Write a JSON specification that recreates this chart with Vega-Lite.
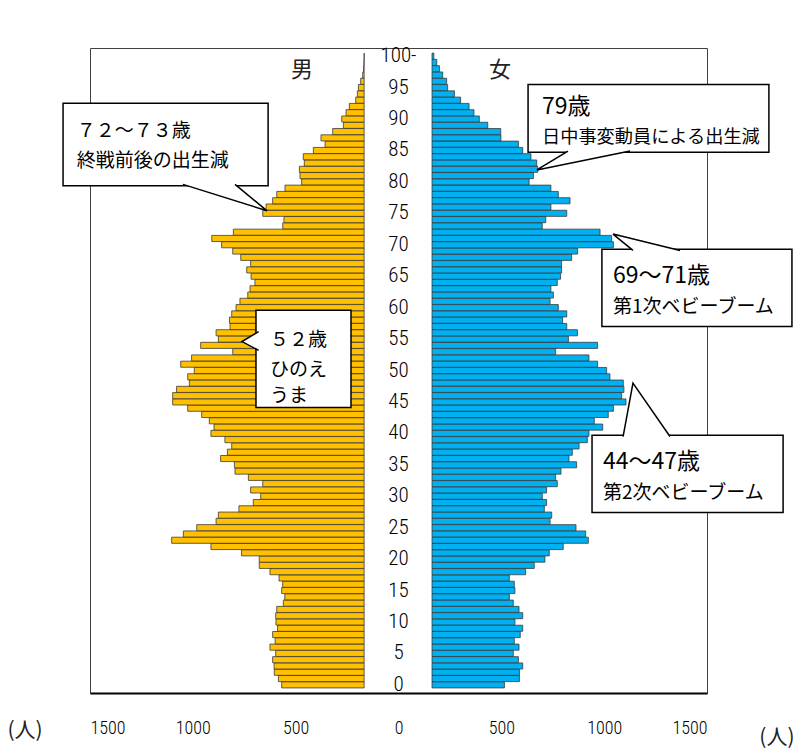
{
  "$schema": "https://vega.github.io/schema/vega-lite/v6.json",
  "width": 617,
  "height": 645,
  "autosize": {"type": "none"},
  "padding": {"left": 90, "top": 48, "right": 91, "bottom": 56},
  "background": "white",
  "config": {"view": {"stroke": "#404040", "strokeWidth": 1}},
  "resolve": {"scale": {"x": "independent"}, "axis": {"x": "independent"}},
  "datasets": {
    "pop": [
      {"age":0,"sex":"男","pop":568},{"age":1,"sex":"男","pop":584},{"age":2,"sex":"男","pop":604},{"age":3,"sex":"男","pop":605},{"age":4,"sex":"男","pop":612},{"age":5,"sex":"男","pop":597},{"age":6,"sex":"男","pop":625},{"age":7,"sex":"男","pop":600},{"age":8,"sex":"男","pop":612},{"age":9,"sex":"男","pop":588},
      {"age":10,"sex":"男","pop":596},{"age":11,"sex":"男","pop":597},{"age":12,"sex":"男","pop":592},{"age":13,"sex":"男","pop":560},{"age":14,"sex":"男","pop":553},{"age":15,"sex":"男","pop":568},{"age":16,"sex":"男","pop":563},{"age":17,"sex":"男","pop":581},{"age":18,"sex":"男","pop":625},{"age":19,"sex":"男","pop":677},
      {"age":20,"sex":"男","pop":677},{"age":21,"sex":"男","pop":763},{"age":22,"sex":"男","pop":912},{"age":23,"sex":"男","pop":1103},{"age":24,"sex":"男","pop":1046},{"age":25,"sex":"男","pop":981},{"age":26,"sex":"男","pop":887},{"age":27,"sex":"男","pop":876},{"age":28,"sex":"男","pop":776},{"age":29,"sex":"男","pop":706},
      {"age":30,"sex":"男","pop":670},{"age":31,"sex":"男","pop":719},{"age":32,"sex":"男","pop":660},{"age":33,"sex":"男","pop":730},{"age":34,"sex":"男","pop":795},{"age":35,"sex":"男","pop":798},{"age":36,"sex":"男","pop":865},{"age":37,"sex":"男","pop":832},{"age":38,"sex":"男","pop":811},{"age":39,"sex":"男","pop":844},
      {"age":40,"sex":"男","pop":912},{"age":41,"sex":"男","pop":897},{"age":42,"sex":"男","pop":920},{"age":43,"sex":"男","pop":957},{"age":44,"sex":"男","pop":1025},{"age":45,"sex":"男","pop":1098},{"age":46,"sex":"男","pop":1098},{"age":47,"sex":"男","pop":1079},{"age":48,"sex":"男","pop":1017},{"age":49,"sex":"男","pop":1025},
      {"age":50,"sex":"男","pop":993},{"age":51,"sex":"男","pop":1059},{"age":52,"sex":"男","pop":1006},{"age":53,"sex":"男","pop":806},{"age":54,"sex":"男","pop":962},{"age":55,"sex":"男","pop":876},{"age":56,"sex":"男","pop":887},{"age":57,"sex":"男","pop":819},{"age":58,"sex":"男","pop":822},{"age":59,"sex":"男","pop":811},
      {"age":60,"sex":"男","pop":790},{"age":61,"sex":"男","pop":771},{"age":62,"sex":"男","pop":733},{"age":63,"sex":"男","pop":722},{"age":64,"sex":"男","pop":698},{"age":65,"sex":"男","pop":717},{"age":66,"sex":"男","pop":738},{"age":67,"sex":"男","pop":719},{"age":68,"sex":"男","pop":767},{"age":69,"sex":"男","pop":806},
      {"age":70,"sex":"男","pop":860},{"age":71,"sex":"男","pop":908},{"age":72,"sex":"男","pop":803},{"age":73,"sex":"男","pop":563},{"age":74,"sex":"男","pop":557},{"age":75,"sex":"男","pop":660},{"age":76,"sex":"男","pop":644},{"age":77,"sex":"男","pop":612},{"age":78,"sex":"男","pop":592},{"age":79,"sex":"男","pop":552},
      {"age":80,"sex":"男","pop":471},{"age":81,"sex":"男","pop":479},{"age":82,"sex":"男","pop":482},{"age":83,"sex":"男","pop":458},{"age":84,"sex":"男","pop":463},{"age":85,"sex":"男","pop":414},{"age":86,"sex":"男","pop":357},{"age":87,"sex":"男","pop":377},{"age":88,"sex":"男","pop":320},{"age":89,"sex":"男","pop":268},
      {"age":90,"sex":"男","pop":276},{"age":91,"sex":"男","pop":255},{"age":92,"sex":"男","pop":239},{"age":93,"sex":"男","pop":208},{"age":94,"sex":"男","pop":200},{"age":95,"sex":"男","pop":195},{"age":96,"sex":"男","pop":184},{"age":97,"sex":"男","pop":174},{"age":98,"sex":"男","pop":170},{"age":99,"sex":"男","pop":168},{"age":100,"sex":"男","pop":167},
      {"age":0,"sex":"女","pop":515},{"age":1,"sex":"女","pop":588},{"age":2,"sex":"女","pop":588},{"age":3,"sex":"女","pop":604},{"age":4,"sex":"女","pop":583},{"age":5,"sex":"女","pop":558},{"age":6,"sex":"女","pop":586},{"age":7,"sex":"女","pop":563},{"age":8,"sex":"女","pop":592},{"age":9,"sex":"女","pop":604},
      {"age":10,"sex":"女","pop":566},{"age":11,"sex":"女","pop":604},{"age":12,"sex":"女","pop":586},{"age":13,"sex":"女","pop":558},{"age":14,"sex":"女","pop":539},{"age":15,"sex":"女","pop":566},{"age":16,"sex":"女","pop":563},{"age":17,"sex":"女","pop":539},{"age":18,"sex":"女","pop":618},{"age":19,"sex":"女","pop":660},
      {"age":20,"sex":"女","pop":712},{"age":21,"sex":"女","pop":733},{"age":22,"sex":"女","pop":801},{"age":23,"sex":"女","pop":923},{"age":24,"sex":"女","pop":910},{"age":25,"sex":"女","pop":863},{"age":26,"sex":"女","pop":737},{"age":27,"sex":"女","pop":745},{"age":28,"sex":"女","pop":709},{"age":29,"sex":"女","pop":720},
      {"age":30,"sex":"女","pop":699},{"age":31,"sex":"女","pop":720},{"age":32,"sex":"女","pop":772},{"age":33,"sex":"女","pop":764},{"age":34,"sex":"女","pop":790},{"age":35,"sex":"女","pop":866},{"age":36,"sex":"女","pop":829},{"age":37,"sex":"女","pop":845},{"age":38,"sex":"女","pop":878},{"age":39,"sex":"女","pop":918},
      {"age":40,"sex":"女","pop":926},{"age":41,"sex":"女","pop":993},{"age":42,"sex":"女","pop":952},{"age":43,"sex":"女","pop":1020},{"age":44,"sex":"女","pop":1045},{"age":45,"sex":"女","pop":1106},{"age":46,"sex":"女","pop":1085},{"age":47,"sex":"女","pop":1096},{"age":48,"sex":"女","pop":1093},{"age":49,"sex":"女","pop":1028},
      {"age":50,"sex":"女","pop":1012},{"age":51,"sex":"女","pop":968},{"age":52,"sex":"女","pop":926},{"age":53,"sex":"女","pop":764},{"age":54,"sex":"女","pop":968},{"age":55,"sex":"女","pop":826},{"age":56,"sex":"女","pop":870},{"age":57,"sex":"女","pop":818},{"age":58,"sex":"女","pop":798},{"age":59,"sex":"女","pop":818},
      {"age":60,"sex":"女","pop":777},{"age":61,"sex":"女","pop":737},{"age":62,"sex":"女","pop":753},{"age":63,"sex":"女","pop":741},{"age":64,"sex":"女","pop":772},{"age":65,"sex":"女","pop":788},{"age":66,"sex":"女","pop":793},{"age":67,"sex":"女","pop":793},{"age":68,"sex":"女","pop":842},{"age":69,"sex":"女","pop":871},
      {"age":70,"sex":"女","pop":1045},{"age":71,"sex":"女","pop":1036},{"age":72,"sex":"女","pop":980},{"age":73,"sex":"女","pop":699},{"age":74,"sex":"女","pop":716},{"age":75,"sex":"女","pop":818},{"age":76,"sex":"女","pop":741},{"age":77,"sex":"女","pop":834},{"age":78,"sex":"女","pop":777},{"age":79,"sex":"女","pop":741},
      {"age":80,"sex":"女","pop":635},{"age":81,"sex":"女","pop":656},{"age":82,"sex":"女","pop":677},{"age":83,"sex":"女","pop":672},{"age":84,"sex":"女","pop":644},{"age":85,"sex":"女","pop":604},{"age":86,"sex":"女","pop":583},{"age":87,"sex":"女","pop":498},{"age":88,"sex":"女","pop":497},{"age":89,"sex":"女","pop":434},
      {"age":90,"sex":"女","pop":393},{"age":91,"sex":"女","pop":367},{"age":92,"sex":"女","pop":343},{"age":93,"sex":"女","pop":302},{"age":94,"sex":"女","pop":272},{"age":95,"sex":"女","pop":239},{"age":96,"sex":"女","pop":234},{"age":97,"sex":"女","pop":215},{"age":98,"sex":"女","pop":199},{"age":99,"sex":"女","pop":186},{"age":100,"sex":"女","pop":172}
    ],
    "ages": [
      {"age":0,"label":"0"},{"age":5,"label":"5"},{"age":10,"label":"10"},{"age":15,"label":"15"},{"age":20,"label":"20"},{"age":25,"label":"25"},{"age":30,"label":"30"},
      {"age":35,"label":"35"},{"age":40,"label":"40"},{"age":45,"label":"45"},{"age":50,"label":"50"},{"age":55,"label":"55"},{"age":60,"label":"60"},{"age":65,"label":"65"},
      {"age":70,"label":"70"},{"age":75,"label":"75"},{"age":80,"label":"80"},{"age":85,"label":"85"},{"age":90,"label":"90"},{"age":95,"label":"95"},{"age":100,"label":"100-"}
    ],
    "boxes": [
      {"id":1,"x1":-1631,"x2":-634,"y1":79.4,"y2":92.5},
      {"id":2,"x1":630,"x2":1801,"y1":84.7,"y2":95.5},
      {"id":3,"x1":989,"x2":1913,"y1":57.0,"y2":69.3},
      {"id":4,"x1":-693,"x2":-231,"y1":44.1,"y2":59.6},
      {"id":5,"x1":941,"x2":1870,"y1":27.4,"y2":39.7}
    ],
    "pointers": [
      {"id":1,"i":0,"x":-1048,"y":79.6},{"id":1,"i":1,"x":-639,"y":75.4},{"id":1,"i":2,"x":-795,"y":79.6},
      {"id":2,"i":0,"x":824,"y":84.9},{"id":2,"i":1,"x":673,"y":81.9},{"id":2,"i":2,"x":1126,"y":84.9},
      {"id":3,"i":0,"x":1140,"y":69.1},{"id":3,"i":1,"x":1043,"y":71.7},{"id":3,"i":2,"x":1369,"y":69.1},
      {"id":4,"i":0,"x":-680,"y":56.2},{"id":4,"i":1,"x":-761,"y":54.6},{"id":4,"i":2,"x":-680,"y":53.2},
      {"id":5,"i":0,"x":1092,"y":39.5},{"id":5,"i":1,"x":1140,"y":48.0},{"id":5,"i":2,"x":1320,"y":39.5}
    ],
    "notes": [
      {"t":"７２～７３歳","x":-1565,"y":88.1},{"t":"終戦前後の出生減","x":-1565,"y":83.4},
      {"t":"第1次ベビーブーム","x":1043,"y":60.1},
      {"t":"５２歳","x":-625,"y":54.8},{"t":"ひのえ","x":-625,"y":50.1},{"t":"うま","x":-625,"y":45.9},
      {"t":"第2次ベビーブーム","x":994,"y":30.5}
    ],
    "notesbig": [
      {"t":"79歳","x":698,"y":91.9},
      {"t":"69～71歳","x":1043,"y":65.0},
      {"t":"44～47歳","x":994,"y":35.5}
    ],
    "notessmall": [
      {"t":"日中事変動員による出生減","x":698,"y":87.0}
    ],
    "sexlabels": [
      {"t":"男","x":-469,"y":97.8},{"t":"女","x":493,"y":97.8}
    ],
    "units": [
      {"t":"(人)","x":-1816,"y":-7.4},{"t":"(人)","x":1840,"y":-8.4}
    ]
  },
  "layer": [
    {
      "data": {"name": "pop"},
      "transform": [{"filter": "datum.sex === '女'"}],
      "mark": {"type": "bar", "color": "#00B0F0", "stroke": "#3a3a3a", "strokeWidth": 0.8, "size": 6.1},
      "encoding": {
        "y": {"field": "age", "type": "quantitative", "scale": {"domain": [-0.5, 100.5], "nice": false, "zero": false}, "axis": null},
        "x": {"field": "pop", "type": "quantitative", "scale": {"domain": [-1500, 1500], "nice": false, "zero": false},
              "axis": {"orient": "bottom", "values": [-1500, -1000, -500, 0, 500, 1000, 1500], "labelExpr": "format(abs(datum.value), 'd')",
                       "title": null, "grid": false, "ticks": false, "tickSize": 0, "labelPadding": 26, "domainColor": "#000000", "domainWidth": 2,
                       "labelFont": "Roboto Condensed, Open Sans Condensed, Roboto, sans-serif", "labelFontSize": 18, "labelFontWeight": 300, "labelColor": "#000000", "zindex": 1}},
        "x2": {"datum": 163}
      }
    },
    {
      "data": {"name": "pop"},
      "transform": [{"filter": "datum.sex === '男'"}],
      "mark": {"type": "bar", "color": "#FFC000", "stroke": "#3a3a3a", "strokeWidth": 0.8, "size": 6.1},
      "encoding": {
        "y": {"field": "age", "type": "quantitative", "scale": {"domain": [-0.5, 100.5], "nice": false, "zero": false}, "axis": null},
        "x": {"field": "pop", "type": "quantitative", "scale": {"domain": [-1500, 1500], "nice": false, "zero": false, "reverse": true}, "axis": null},
        "x2": {"datum": 167}
      }
    },
    {
      "data": {"name": "ages"},
      "mark": {"type": "text", "align": "center", "baseline": "middle", "font": "Roboto Condensed, Open Sans Condensed, Roboto, sans-serif", "fontSize": 21, "fontWeight": 300, "color": "#000000"},
      "encoding": {
        "y": {"field": "age", "type": "quantitative", "scale": {"domain": [-0.5, 100.5], "nice": false, "zero": false}, "axis": null},
        "x": {"datum": 0, "type": "quantitative", "scale": {"domain": [-1500, 1500], "nice": false, "zero": false}, "axis": null},
        "text": {"field": "label"}
      }
    },
    {
      "data": {"name": "boxes"},
      "mark": {"type": "rect", "fill": "white", "stroke": "#000000", "strokeWidth": 1.5},
      "encoding": {
        "x": {"field": "x1", "type": "quantitative", "scale": {"domain": [-1500, 1500], "nice": false, "zero": false}, "axis": null},
        "x2": {"field": "x2"},
        "y": {"field": "y1", "type": "quantitative", "scale": {"domain": [-0.5, 100.5], "nice": false, "zero": false}, "axis": null},
        "y2": {"field": "y2"}
      }
    },
    {
      "data": {"name": "pointers"},
      "mark": {"type": "line", "fill": "white", "stroke": "#000000", "strokeWidth": 1.5, "strokeJoin": "miter"},
      "encoding": {
        "x": {"field": "x", "type": "quantitative", "scale": {"domain": [-1500, 1500], "nice": false, "zero": false}, "axis": null},
        "y": {"field": "y", "type": "quantitative", "scale": {"domain": [-0.5, 100.5], "nice": false, "zero": false}, "axis": null},
        "detail": {"field": "id"},
        "order": {"field": "i"}
      }
    },
    {
      "data": {"name": "notes"},
      "mark": {"type": "text", "align": "left", "baseline": "middle", "font": "Noto Sans CJK JP", "fontSize": 19, "color": "#000000"},
      "encoding": {
        "x": {"field": "x", "type": "quantitative", "scale": {"domain": [-1500, 1500], "nice": false, "zero": false}, "axis": null},
        "y": {"field": "y", "type": "quantitative", "scale": {"domain": [-0.5, 100.5], "nice": false, "zero": false}, "axis": null},
        "text": {"field": "t"}
      }
    },
    {
      "data": {"name": "notesbig"},
      "mark": {"type": "text", "align": "left", "baseline": "middle", "font": "Noto Sans CJK JP", "fontSize": 23, "color": "#000000"},
      "encoding": {
        "x": {"field": "x", "type": "quantitative", "scale": {"domain": [-1500, 1500], "nice": false, "zero": false}, "axis": null},
        "y": {"field": "y", "type": "quantitative", "scale": {"domain": [-0.5, 100.5], "nice": false, "zero": false}, "axis": null},
        "text": {"field": "t"}
      }
    },
    {
      "data": {"name": "notessmall"},
      "mark": {"type": "text", "align": "left", "baseline": "middle", "font": "Noto Sans CJK JP", "fontSize": 18.2, "color": "#000000"},
      "encoding": {
        "x": {"field": "x", "type": "quantitative", "scale": {"domain": [-1500, 1500], "nice": false, "zero": false}, "axis": null},
        "y": {"field": "y", "type": "quantitative", "scale": {"domain": [-0.5, 100.5], "nice": false, "zero": false}, "axis": null},
        "text": {"field": "t"}
      }
    },
    {
      "data": {"name": "sexlabels"},
      "mark": {"type": "text", "align": "center", "baseline": "middle", "font": "Noto Sans CJK JP", "fontSize": 22, "color": "#222222"},
      "encoding": {
        "x": {"field": "x", "type": "quantitative", "scale": {"domain": [-1500, 1500], "nice": false, "zero": false}, "axis": null},
        "y": {"field": "y", "type": "quantitative", "scale": {"domain": [-0.5, 100.5], "nice": false, "zero": false}, "axis": null},
        "text": {"field": "t"}
      }
    },
    {
      "data": {"name": "units"},
      "mark": {"type": "text", "align": "center", "baseline": "middle", "font": "Noto Sans CJK JP", "fontSize": 21, "color": "#222222"},
      "encoding": {
        "x": {"field": "x", "type": "quantitative", "scale": {"domain": [-1500, 1500], "nice": false, "zero": false}, "axis": null},
        "y": {"field": "y", "type": "quantitative", "scale": {"domain": [-0.5, 100.5], "nice": false, "zero": false}, "axis": null},
        "text": {"field": "t"}
      }
    },
    {
      "mark": {"type": "text", "align": "center", "baseline": "middle", "font": "Noto Sans CJK JP", "fontSize": 20, "color": "#000000", "text": "(歳)"},
      "encoding": {
        "x": {"datum": 0, "type": "quantitative", "scale": {"domain": [-1500, 1500], "nice": false, "zero": false}, "axis": null},
        "y": {"datum": 105.2, "type": "quantitative", "scale": {"domain": [-0.5, 100.5], "nice": false, "zero": false}, "axis": null}
      }
    },
    {
      "mark": {"type": "rule", "color": "#c8c8c8", "strokeWidth": 1},
      "encoding": {
        "x": {"datum": -1879, "type": "quantitative", "scale": {"domain": [-1500, 1500], "nice": false, "zero": false}, "axis": null},
        "x2": {"datum": 1874},
        "y": {"datum": -7.8, "type": "quantitative", "scale": {"domain": [-0.5, 100.5], "nice": false, "zero": false}, "axis": null}
      }
    }
  ]
}
